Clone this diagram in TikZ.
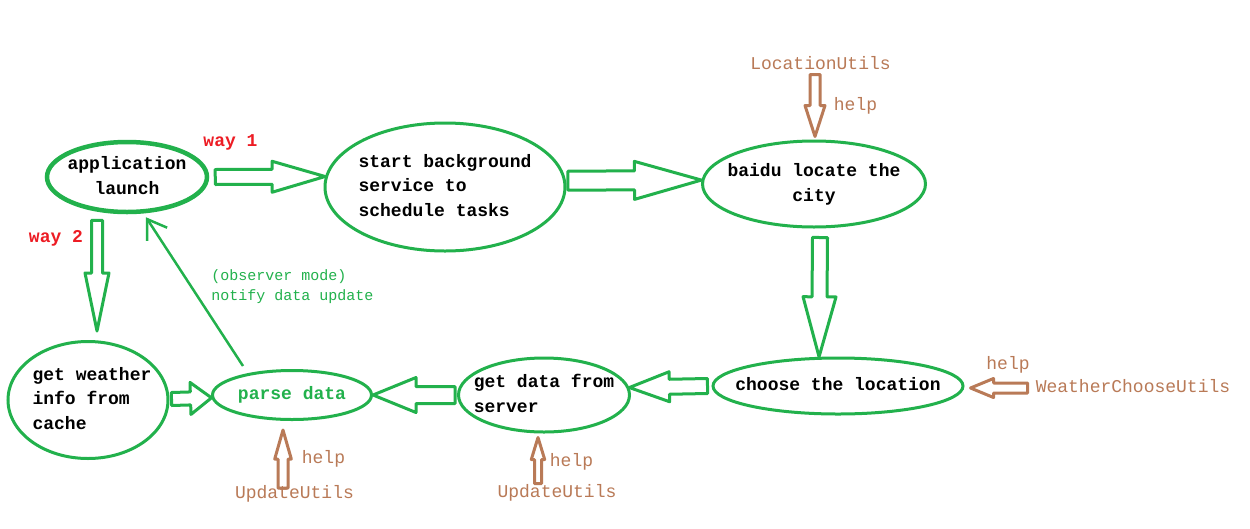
\documentclass[tikz,border=0pt]{standalone}
\usepackage{fontspec}
\usetikzlibrary{shapes.geometric,calc,arrows.meta}
\newfontfamily\flowfont{Liberation Mono}
\newfontfamily\notefont{Liberation Mono}
\definecolor{paintgreen}{HTML}{22B14C}
\definecolor{paintbrown}{HTML}{B97A57}
\definecolor{paintred}{HTML}{ED1C24}

\tikzset{
  bubble/.style={ellipse, draw=paintgreen, line width=3pt, inner sep=0pt,
    font=\flowfont\bfseries\fontsize{18}{24.5}\selectfont},
  fat/.style={draw=paintgreen, line width=3pt, line join=round},
  helpfat/.style={draw=paintbrown, line width=3pt, line join=round},
  helptext/.style={text=paintbrown, inner sep=0pt, font=\flowfont\fontsize{18}{20}\selectfont},
  waytext/.style={text=paintred, inner sep=0pt, font=\flowfont\bfseries\fontsize{18}{20}\selectfont},
  notetext/.style={text=paintgreen, inner sep=0pt, align=left, font=\notefont\fontsize{15}{20}\selectfont},
  notify/.style={draw=paintgreen, line width=2.5pt, -{Straight Barb[length=18pt,width=24pt]}},
}
% text inside a bubble, not widening it
\newcommand{\bubtext}[2][l]{\makebox[0pt]{\begin{tabular}{@{}#1@{}}#2\end{tabular}}}
% hollow block arrow: [style]{from}{to}{shaft half}{head half}{head length}
\newcommand{\fatarrow}[6][]{%
  \coordinate (fa-a) at (#2);
  \coordinate (fa-z) at (#3);
  \coordinate (fa-b) at ($(fa-z)!#6!(fa-a)$);
  \draw[fat,#1] ($(fa-a)!#4!90:(fa-z)$) -- ($(fa-b)!#4!90:(fa-z)$)
    -- ($(fa-b)!#5!90:(fa-z)$) -- (fa-z) -- ($(fa-b)!#5!-90:(fa-z)$)
    -- ($(fa-b)!#4!-90:(fa-z)$) -- ($(fa-a)!#4!-90:(fa-z)$) -- cycle;
}

\begin{document}
\begin{tikzpicture}[x=1pt,y=-1pt]
\fill[white] (0,0) rectangle (1250,528);
\useasboundingbox (0,0) rectangle (1250,528);

% the steps
\node[bubble, line width=4.5pt, minimum width=160pt, minimum height=70pt] (launch) at (127,177) {\bubtext[c]{application\\launch}};
\node[bubble, minimum width=240pt, minimum height=128pt] (service) at (445,187) {\bubtext{start background\\service to\\schedule tasks}};
\node[bubble, minimum width=223pt, minimum height=86pt] (locate) at (814,184) {\bubtext[c]{baidu locate the\\city}};
\node[bubble, minimum width=250pt, minimum height=56pt] (choose) at (838,386) {\bubtext{choose the location}};
\node[bubble, minimum width=171pt, minimum height=74pt] (server) at (544,395) {\bubtext{get data from\\server}};
\node[bubble, minimum width=159pt, minimum height=49pt, text=paintgreen] (parse) at (292,395) {\bubtext{parse data}};
\node[bubble, minimum width=160pt, minimum height=117pt] (cache) at (88,400) {\bubtext{\hspace{8pt}\begin{tabular}{@{}l@{}}get weather\\info from\\cache\end{tabular}}};

% the flow
\fatarrow{[xshift=6pt]launch.east}{service.175}{7.5pt}{15.5pt}{53pt}
\fatarrow{[xshift=2pt]service.3}{locate.178}{9.5pt}{19pt}{67pt}
\fatarrow{[xshift=6pt,yshift=-9pt]locate.south}{choose.123}{7.5pt}{16.5pt}{60pt}
\fatarrow{[xshift=-4pt]choose.west}{server.5}{7.5pt}{15pt}{40pt}
\fatarrow{[xshift=-2pt]server.west}{parse.east}{8.5pt}{17.5pt}{43pt}
\fatarrow{[xshift=2pt,yshift=1pt]cache.east}{parse.182}{6.5pt}{16pt}{21pt}
\fatarrow{[xshift=-30pt,yshift=-6pt]launch.south}{[xshift=9pt,yshift=9pt]cache.north}{5.5pt}{12pt}{58pt}
\draw[notify] ([xshift=-49pt,yshift=3pt]parse.north) -- ([xshift=19pt,yshift=-3pt]launch.south);

\node[waytext] (way1) at (230.5,142) {way 1};
\node[waytext] (way2) at (56,238) {way 2};
\node[notetext] (note) at (292.5,287) {(observer mode)\\notify data update};

% the helpers
\coordinate (loctip) at ([xshift=1pt,yshift=3pt]locate.north);
\coordinate (loctail) at ([yshift=62pt]loctip);
\fatarrow[helpfat]{loctail}{loctip}{5pt}{10pt}{31pt}
\node[helptext] (locutils) at (820.5,63) {LocationUtils};
\node[helptext] (lochelp) at (855.5,106) {help};

\coordinate (parsetip) at ([xshift=-9pt,yshift=-9pt]parse.south);
\coordinate (parsetail) at ([yshift=-58pt]parsetip);
\fatarrow[helpfat]{parsetail}{parsetip}{5pt}{8.3pt}{29pt}
\node[helptext] (parsehelp) at (323.5,459) {help};
\node[helptext] (parseutils) at (294.5,494) {UpdateUtils};

\coordinate (servtip) at ([xshift=-6pt,yshift=-4pt]server.south);
\coordinate (servtail) at ([yshift=-46pt]servtip);
\fatarrow[helpfat]{servtail}{servtip}{3.5pt}{6.7pt}{22pt}
\node[helptext] (servhelp) at (571.5,462) {help};
\node[helptext] (servutils) at (557,493) {UpdateUtils};

\coordinate (choosetip) at ([xshift=6pt,yshift=-2pt]choose.east);
\coordinate (choosetail) at ([xshift=57pt]choosetip);
\fatarrow[helpfat]{choosetail}{choosetip}{5pt}{9.5pt}{23pt}
\node[helptext] (choosehelp) at (1008,365) {help};
\node[helptext] (chooseutils) at (1133,386) {WeatherChooseUtils};
\end{tikzpicture}
\end{document}
